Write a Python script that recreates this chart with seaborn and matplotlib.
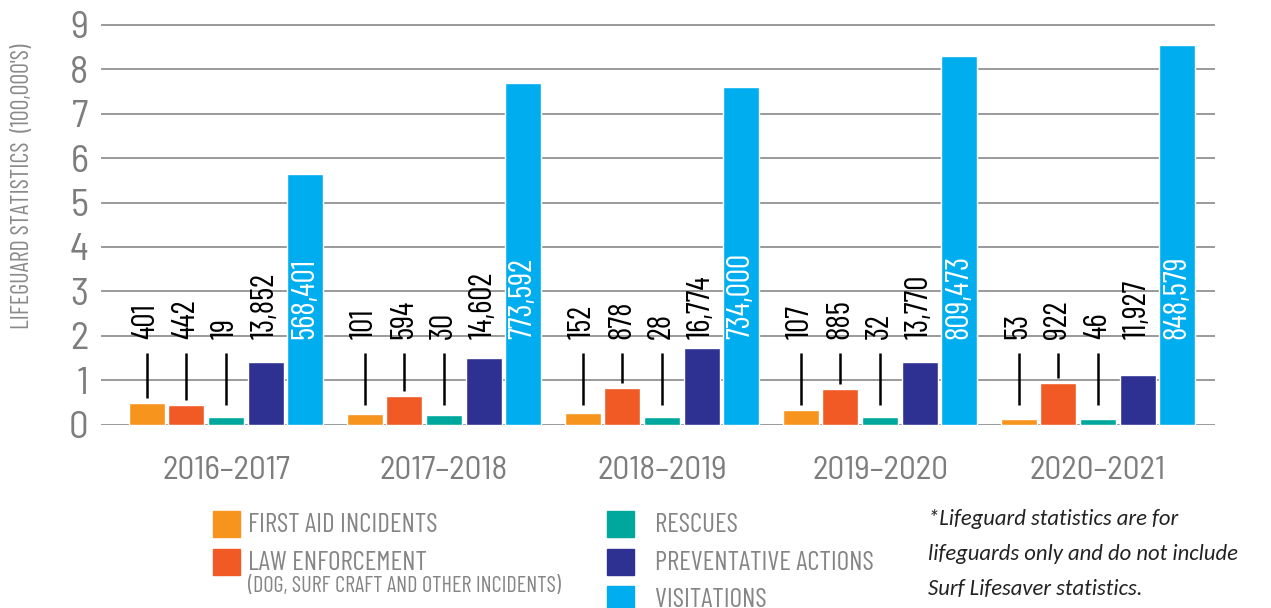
import pandas as pd
import numpy as np
import matplotlib
matplotlib.use("Agg")
import matplotlib.pyplot as plt
import seaborn as sns

# Data
seasons = ['2016–2017', '2017–2018', '2018–2019', '2019–2020', '2020–2021']
categories = ['First Aid', 'Law Enforcement', 'Rescues', 'Preventative', 'Visitations']
colors = ['#F7941D', '#F15A24', '#00A79D', '#2E3192', '#00AEEF']

# bar heights as drawn (axis in 100,000's)
first_aid_h = [0.48, 0.23, 0.26, 0.33, 0.12]
law_h = [0.43, 0.64, 0.82, 0.80, 0.93]
rescues_h = [0.17, 0.21, 0.17, 0.17, 0.12]
prevent_h = [1.41, 1.49, 1.72, 1.41, 1.12]
visit_h = [5.64, 7.69, 7.60, 8.30, 8.55]

# printed labels
first_aid_lbl = ['401', '101', '152', '107', '53']
law_lbl = ['442', '594', '878', '885', '922']
rescues_lbl = ['19', '30', '28', '32', '46']
prevent_lbl = ['13,852', '14,602', '16,774', '13,770', '11,927']
visit_lbl = ['568,401', '773,592', '734,000', '809,473', '848,579']

heights = [first_aid_h, law_h, rescues_h, prevent_h, visit_h]
labels = [first_aid_lbl, law_lbl, rescues_lbl, prevent_lbl, visit_lbl]

rows = []
for cat, hs in zip(categories, heights):
    for s, h in zip(seasons, hs):
        rows.append({'Season': s, 'Category': cat, 'Value': h})
df = pd.DataFrame(rows)

sns.set_theme(style='white')
din = ['Barlow Condensed', 'DejaVu Sans']
din_wide = ['Barlow Semi Condensed', 'Barlow Condensed', 'DejaVu Sans']
plt.rcParams['font.family'] = din

W, H = 1271, 608
fig = plt.figure(figsize=(W / 100, H / 100), dpi=100)
unit = 44.39
pad = 0.02
ax_bottom = 424.5 + pad * unit
ax_top = 25 - pad * unit
ax = fig.add_axes([101 / W, (H - ax_bottom) / H, 1114 / W, (ax_bottom - ax_top) / H])

sns.barplot(data=df, x='Season', y='Value', hue='Category', palette=colors,
            width=0.91, gap=0.09, legend=False, ax=ax, saturation=1)

ax.set_xlim(-0.573, 4.537)
ax.set_ylim(-pad, 9 + pad)
ax.set_yticks(range(0, 10))
ax.yaxis.grid(True, color='#9a9a9a', linewidth=1.4)
ax.set_axisbelow(True)
for sp in ax.spines.values():
    sp.set_visible(False)
ax.tick_params(axis='y', length=0, pad=9)
ax.tick_params(axis='x', length=0, pad=22)
for t in ax.get_yticklabels():
    t.set_fontsize(28)
    t.set_color('#7d7d7d')
    t.set_family(din_wide)
for t in ax.get_xticklabels():
    t.set_fontsize(24)
    t.set_color('#7d7d7d')
    t.set_family(din_wide)
ax.set_xlabel('')
ax.set_ylabel('')
fig.text(23 / W, 1 - 186 / H, "LIFEGUARD STATISTICS  (100,000'S)", rotation=90,
         fontsize=17.5, color='#8a8a8a', ha='center', va='center')

# value labels and leader lines
label_y = 1.92
line_top = 1.61
for i, cont in enumerate(ax.containers):
    for j, bar in enumerate(cont):
        xc = bar.get_x() + bar.get_width() / 2
        h = bar.get_height()
        color = 'white' if i == 4 else 'black'
        ax.text(xc, label_y, labels[i][j], rotation=90, ha='center', va='bottom',
                fontsize=23, color=color)
        if i < 3:
            bottom = max(h + 0.12, 0.45)
            ax.plot([xc, xc], [bottom, line_top], color='black', lw=1.8,
                    solid_capstyle='butt')

# custom legend
leg_items = [
    (213, 511, colors[0], 'FIRST AID INCIDENTS'),
    (213, 549, colors[1], 'LAW ENFORCEMENT'),
    (607, 511, colors[2], 'RESCUES'),
    (607, 549, colors[3], 'PREVENTATIVE ACTIONS'),
    (607, 586, colors[4], 'VISITATIONS'),
]
for x, y, c, t in leg_items:
    fig.patches.append(plt.Rectangle((x / W, 1 - (y + 26) / H), 27 / W, 26 / H,
                                     transform=fig.transFigure, color=c))
    tx = 248 if x < 600 else 655
    fig.text(tx / W, 1 - (y + 14) / H, t, fontsize=19.5, color='#858585', va='center')
fig.text(248 / W, 1 - 586 / H, '(DOG, SURF CRAFT AND OTHER INCIDENTS)', fontsize=16,
         color='#858585', va='center')

note = ['*Lifeguard statistics are for', 'lifeguards only and do not include',
        'Surf Lifesaver statistics.']
for k, line in enumerate(note):
    fig.text(928 / W, 1 - (519 + 35 * k) / H, line, fontsize=16.3, style='italic',
             family=['Carlito', 'DejaVu Sans'], color='#222222', va='center')

fig.savefig('out.png', dpi=100)
